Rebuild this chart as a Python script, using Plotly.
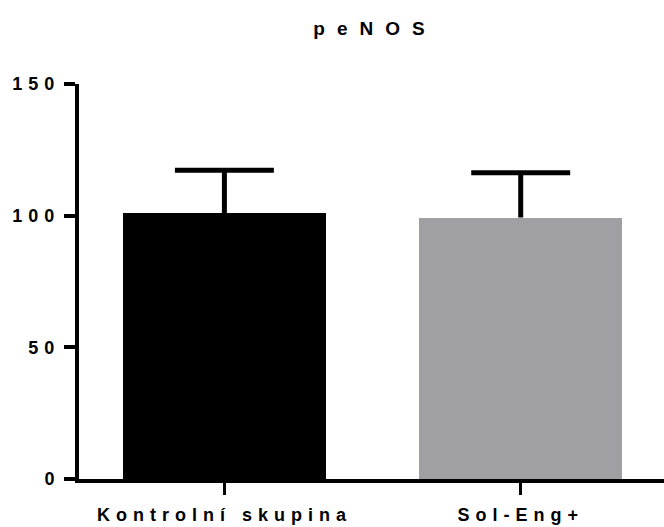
import plotly.graph_objects as go

# Group means and standard errors (upper error only)
categories = ["Kontrolní skupina", "Sol-Eng+"]
means = [101.0, 99.3]
sem = [16.2, 17.0]
bar_colors = ["#000000", "#A09FA4"]

y_tick_values = [0, 50, 100, 150]
y_tick_labels = ["0", "50", "100", "150"]
title_text = "peNOS"

FONT = "Liberation Sans, Arial, sans-serif"
CAP_HALF = 0.167  # half width of the error-bar cap, in category units


def spaced(text, px):
    """Bold text with extra letter spacing."""
    return f'<span style="letter-spacing:{px}px;font-weight:bold">{text}</span>'


x_pos = list(range(len(categories)))

fig = go.Figure()
for i, (cat, m, c) in enumerate(zip(categories, means, bar_colors)):
    fig.add_trace(go.Bar(
        x=[x_pos[i]],
        y=[m],
        width=0.686,
        marker=dict(color=c, line=dict(width=0)),
        name=cat,
        showlegend=False,
    ))

# Upper error bars: stem from the bar top, cap at mean + SEM
for i, (m, e) in enumerate(zip(means, sem)):
    xi = x_pos[i]
    fig.add_trace(go.Scatter(
        x=[xi, xi, None, xi - CAP_HALF, xi + CAP_HALF],
        y=[m, m + e, None, m + e, m + e],
        mode="lines",
        line=dict(color="#000000", width=5),
        hoverinfo="skip",
        showlegend=False,
        cliponaxis=False,
    ))

fig.update_layout(
    width=664,
    height=527,
    margin=dict(l=79, r=0, t=84, b=48, pad=0),
    paper_bgcolor="white",
    plot_bgcolor="white",
    font=dict(family=FONT, size=18, color="#000000", weight="bold"),
    title=dict(
        text=spaced(title_text, 12),
        x=(369 + 6) / 664,
        xref="container",
        xanchor="center",
        y=1 - 28 / 527,
        yref="container",
        yanchor="middle",
        font=dict(family=FONT, size=19, color="#000000", weight="bold"),
    ),
    bargap=0,
)

fig.update_xaxes(
    range=[-0.4907, 1.4836],
    tickmode="array",
    tickvals=x_pos,
    ticktext=[spaced(c, 6) for c in categories],
    ticks="outside",
    ticklen=12,
    tickwidth=3,
    tickcolor="#000000",
    ticklabelstandoff=4,
    showline=True,
    linewidth=4,
    linecolor="#000000",
    showgrid=False,
    zeroline=False,
    tickfont=dict(family=FONT, size=18, color="#000000", weight="bold"),
)

fig.update_yaxes(
    range=[0, 150],
    tickmode="array",
    tickvals=y_tick_values,
    ticktext=[spaced(t, 6) for t in y_tick_labels],
    ticks="outside",
    ticklen=11,
    tickwidth=4,
    tickcolor="#000000",
    showline=True,
    linewidth=4,
    linecolor="#000000",
    showgrid=False,
    zeroline=False,
    tickfont=dict(family=FONT, size=18, color="#000000", weight="bold"),
)

fig.write_html("out.html")
